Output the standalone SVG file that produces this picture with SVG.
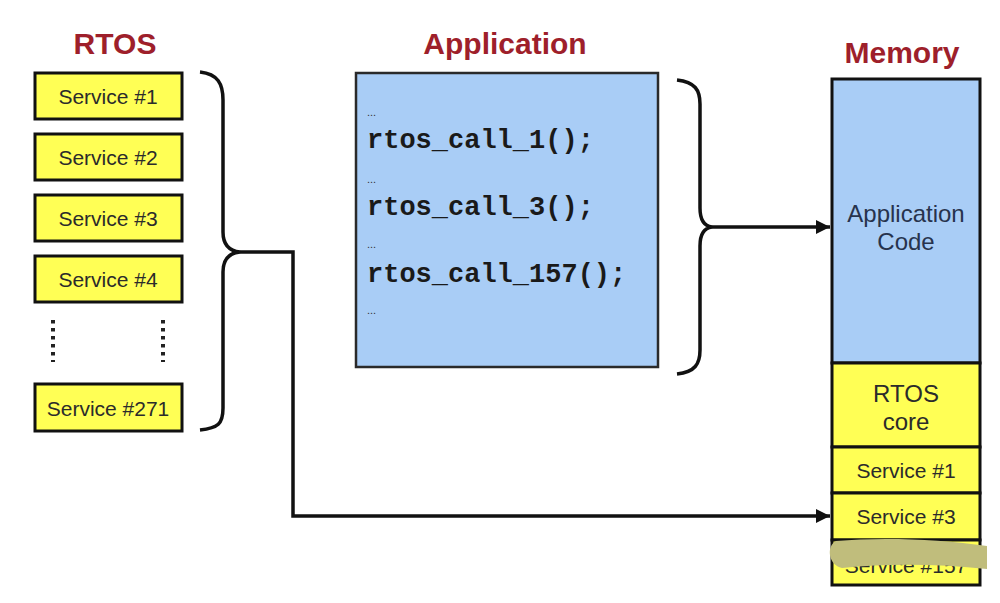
<svg xmlns="http://www.w3.org/2000/svg" width="1000" height="603" viewBox="0 0 1000 603">
<defs>
<style>
.title{font-family:"Liberation Sans",Arial,sans-serif;font-weight:bold;font-size:30px;fill:#9e1f2b;text-anchor:middle}
.svc rect{fill:#ffff55;stroke:#111;stroke-width:3}
.svc text,.mem text{font-family:"Liberation Sans",Arial,sans-serif;font-size:21px;fill:#2b2b2b;text-anchor:middle}
.mem rect{stroke:#111;stroke-width:3}
.mem .big{font-size:24px}
.mem .blue{fill:#27334d}
.code{font-family:"Liberation Mono","Courier New",monospace;font-weight:bold;font-size:27px;fill:#1a1a1a}
.ell{font-family:"Liberation Sans",Arial,sans-serif;font-size:11px;fill:#333}
.wire{fill:none;stroke:#111;stroke-width:3.5;stroke-linejoin:miter}
.dots{stroke:#222;stroke-width:4;stroke-dasharray:3.5 4.5}
</style>
<marker id="arr" viewBox="0 0 10 10" refX="10" refY="5" markerWidth="4" markerHeight="4" orient="auto" markerUnits="strokeWidth">
<path d="M0,0 L10,5 L0,10 Z" fill="#111"/>
</marker>
</defs>
<rect width="1000" height="603" fill="#fff"/>

<text class="title" x="115" y="54">RTOS</text>
<text class="title" x="505" y="54">Application</text>
<text class="title" x="902" y="63">Memory</text>

<g id="rtos-service-1" class="svc"><rect x="35" y="73" width="147" height="46"/><text x="108" y="104">Service #1</text></g>
<g id="rtos-service-2" class="svc"><rect x="35" y="134" width="147" height="46"/><text x="108" y="165">Service #2</text></g>
<g id="rtos-service-3" class="svc"><rect x="35" y="195" width="147" height="46"/><text x="108" y="226">Service #3</text></g>
<g id="rtos-service-4" class="svc"><rect x="35" y="256" width="147" height="46"/><text x="108" y="287">Service #4</text></g>
<g id="rtos-ellipsis">
<line class="dots" x1="53" y1="320" x2="53" y2="362"/>
<line class="dots" x1="163" y1="320" x2="163" y2="362"/>
</g>
<g id="rtos-service-271" class="svc"><rect x="35" y="384" width="147" height="47"/><text x="108" y="416">Service #271</text></g>

<g id="application">
<rect x="356" y="73" width="302" height="294" fill="#a9cdf6" stroke="#2a2a2a" stroke-width="2.5"/>
<text class="ell" x="367" y="116">...</text>
<text class="code" x="367" y="148">rtos_call_1();</text>
<text class="ell" x="367" y="183">...</text>
<text class="code" x="367" y="215">rtos_call_3();</text>
<text class="ell" x="367" y="248">...</text>
<text class="code" x="367" y="282">rtos_call_157();</text>
<text class="ell" x="367" y="314">...</text>
</g>

<g id="memory" class="mem">
<rect x="832" y="79" width="148" height="284" fill="#a9cdf6"/>
<text class="big blue" x="906" y="222">Application</text>
<text class="big blue" x="906" y="250">Code</text>
<rect x="832" y="363" width="148" height="84" fill="#ffff55"/>
<text class="big" x="906" y="402">RTOS</text>
<text class="big" x="906" y="430">core</text>
<rect x="832" y="447" width="148" height="46" fill="#ffff55"/>
<text x="906" y="478">Service #1</text>
<rect x="832" y="493" width="148" height="47" fill="#ffff55"/>
<text x="906" y="524">Service #3</text>
<rect x="832" y="540" width="148" height="45" fill="#ffff55"/>
<text x="906" y="573">Service #157</text>
<path d="M836,541 C880,537 940,539 987,546 L987,569 C940,564 890,563 842,568 C828,565 826,546 836,541 Z" fill="#c0bd7c"/>
</g>

<g id="connectors">
<path class="wire" d="M200,72 C218,74 223,84 223,100 L223,232 C223,246 230,251 240,252 C230,253 223,258 223,272 L223,408 C223,424 218,428 200,430"/>
<path class="wire" d="M240,252 L293,252 L293,516 L830,516" marker-end="url(#arr)"/>
<path class="wire" d="M677,80 C695,82 700,90 700,104 L700,208 C700,220 704,226 712,227 C704,228 700,234 700,246 L700,350 C700,364 695,372 677,374"/>
<path class="wire" d="M712,227 L830,227" marker-end="url(#arr)"/>
</g>
</svg>
